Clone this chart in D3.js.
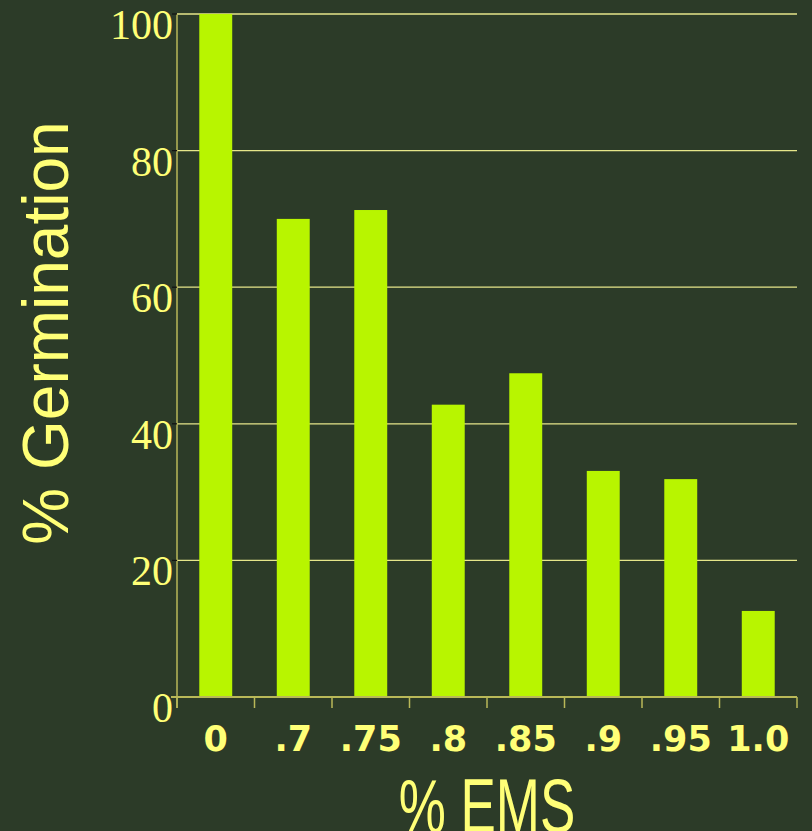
<!DOCTYPE html>
<html>
<head>
<meta charset="utf-8">
<script src="https://cdn.jsdelivr.net/npm/d3@7"></script>
<style>
  html, body { margin: 0; padding: 0; background: #2c3b28; }
  svg { display: block; }
</style>
</head>
<body>
<svg id="chart" width="812" height="831"></svg>
<script>
/* data */
const categories = ["0", ".7", ".75", ".8", ".85", ".9", ".95", "1.0"];
const germination = [100, 70, 71.3, 42.8, 47.4, 33.1, 31.9, 12.6];
const yTicks = [0, 20, 40, 60, 80, 100];

/* layout */
const W = 812, H = 831;
const m = { left: 177, right: 15, top: 14, bottom: 134 };
const svg = d3.select("#chart");

const x = d3.scaleBand()
  .domain(categories)
  .range([m.left, W - m.right])
  .paddingInner(0.575)
  .paddingOuter(0.2875);

const y = d3.scaleLinear()
  .domain([0, 100])
  .range([H - m.bottom, m.top]);

const yellow = "#ffff77";
const axisCol = "#b9b858";

// gridlines
svg.append("g")
  .selectAll("line")
  .data(yTicks.filter((t) => t > 0))
  .enter()
  .append("line")
  .attr("x1", m.left)
  .attr("x2", W - m.right)
  .attr("y1", (d) => y(d))
  .attr("y2", (d) => y(d))
  .attr("stroke", "#e6e68a")
  .attr("stroke-width", 1.3);

// bars
svg.append("g")
  .selectAll("rect")
  .data(germination)
  .enter()
  .append("rect")
  .attr("x", (d, i) => x(categories[i]))
  .attr("width", x.bandwidth())
  .attr("y", (d) => y(d))
  .attr("height", (d) => y(0) - y(d))
  .attr("fill", "#b8f500");

// y axis line
svg.append("line")
  .attr("x1", m.left).attr("x2", m.left)
  .attr("y1", m.top).attr("y2", y(0) + 11)
  .attr("stroke", axisCol).attr("stroke-width", 1.5);

// x axis line
svg.append("line")
  .attr("x1", m.left - 6).attr("x2", W - m.right)
  .attr("y1", y(0)).attr("y2", y(0))
  .attr("stroke", axisCol).attr("stroke-width", 2);

// x ticks at band edges
const edges = categories.map((c) => x(c) - x.step() * x.paddingInner() / 2);
edges.push(W - m.right);
svg.append("g")
  .selectAll("line")
  .data(edges)
  .enter()
  .append("line")
  .attr("x1", (d) => d).attr("x2", (d) => d)
  .attr("y1", y(0)).attr("y2", y(0) + 11)
  .attr("stroke", axisCol).attr("stroke-width", 1.5);

// y tick marks (small, dark)
svg.append("g")
  .selectAll("line")
  .data(yTicks.filter((t) => t > 0))
  .enter()
  .append("line")
  .attr("x1", m.left - 5).attr("x2", m.left)
  .attr("y1", (d) => y(d)).attr("y2", (d) => y(d))
  .attr("stroke", "#111").attr("stroke-width", 1.2);

// y tick labels
svg.append("g")
  .selectAll("text")
  .data(yTicks)
  .enter()
  .append("text")
  .attr("x", m.left - 4)
  .attr("y", (d) => y(d) + 25)
  .attr("text-anchor", "end")
  .attr("font-family", "'Liberation Serif', 'Times New Roman', serif")
  .attr("font-size", 42)
  .attr("fill", yellow)
  .text((d) => d);

// x tick labels
svg.append("g")
  .selectAll("text")
  .data(categories)
  .enter()
  .append("text")
  .attr("x", (d) => x(d) + x.bandwidth() / 2)
  .attr("y", 751)
  .attr("text-anchor", "middle")
  .attr("font-family", "'DejaVu Sans', sans-serif")
  .attr("font-weight", "bold")
  .attr("font-size", 35)
  .attr("fill", yellow)
  .text((d) => d);

// axis titles
svg.append("text")
  .attr("transform", "translate(487,832) scale(1,1.45)")
  .attr("text-anchor", "middle")
  .attr("font-family", "'Liberation Sans', Arial, sans-serif")
  .attr("font-size", 53)
  .attr("fill", yellow)
  .text("% EMS");

svg.append("text")
  .attr("transform", "translate(68,333) rotate(-90)")
  .attr("text-anchor", "middle")
  .attr("font-family", "'Liberation Sans', Arial, sans-serif")
  .attr("font-size", 64)
  .attr("fill", yellow)
  .text("% Germination");
</script>
</body>
</html>
